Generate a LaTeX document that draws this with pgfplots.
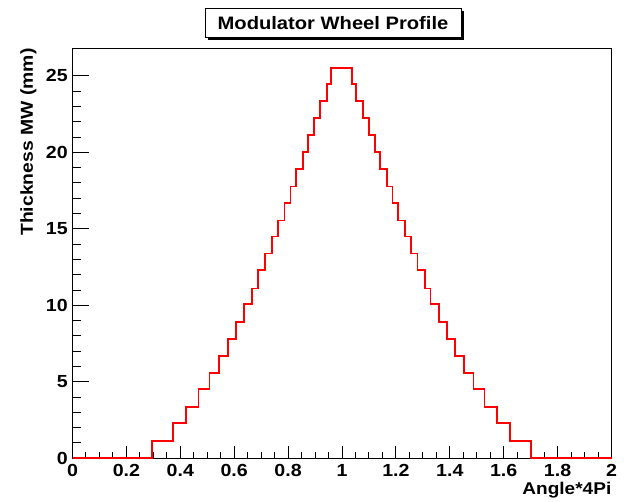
\documentclass[border=0pt]{standalone}
\usepackage{fontspec}
\setmainfont{Liberation Sans}[FakeStretch=1.12]
\usepackage{pgfplots}
\pgfplotsset{compat=1.18}
\begin{document}
\begin{tikzpicture}
\path (0,0) rectangle (629pt,502pt);
\fill[black] (207.5pt,462pt) rectangle (463.5pt,491.2pt);
\filldraw[fill=white, draw=black, line width=1pt] (205pt,464.5pt) rectangle (461pt,493.7pt);
\node[font=\bfseries\fontsize{18}{21}\selectfont, inner sep=0pt] at (333pt,479.1pt) {Modulator Wheel Profile};
\begin{axis}[
  at={(72.5pt,43.7pt)}, anchor=south west,
  scale only axis, width=539pt, height=410pt,
  xmin=0, xmax=2, ymin=0, ymax=26.8,
  clip=false,
  axis line style={line width=1.3pt, black},
  tick align=inside, xtick pos=bottom, ytick pos=left,
  xtick={0,0.2,0.4,0.6,0.8,1,1.2,1.4,1.6,1.8,2},
  ytick={0,5,10,15,20,25},
  minor x tick num=3, minor y tick num=4,
  xtick style={line width=1pt, black, /pgfplots/major tick length=12.5pt, /pgfplots/minor tick length=6.5pt},
  ytick style={line width=1pt, black, /pgfplots/major tick length=16.5pt, /pgfplots/minor tick length=8.5pt},
  /pgf/number format/assume math mode=true,
  ticklabel style={font=\bfseries\fontsize{17.5}{20}\selectfont, inner sep=0pt},
  xticklabel style={anchor=north, yshift=-6pt},
  yticklabel style={anchor=east, xshift=-4.5pt},
  xlabel={Angle*4Pi},
  xlabel style={at={(axis description cs:1,-0.0572)}, anchor=north east, inner sep=0pt, font=\bfseries\fontsize{17}{20}\selectfont},
  ylabel={Thickness MW (mm)},
  ylabel style={at={(axis description cs:-0.0816,1)}, anchor=east, inner sep=0pt, font=\bfseries\fontsize{17.3}{20}\selectfont},
]
\addplot[const plot, red, line width=1.8pt, line join=miter] coordinates {
(0,0) (0.295,1.13) (0.3735,2.29) (0.4205,3.36) (0.4675,4.51) (0.508,5.56)
(0.5425,6.70) (0.5765,7.79) (0.6075,8.90) (0.637,10.08) (0.6675,11.10)
(0.6895,12.32) (0.7155,13.39) (0.740,14.50) (0.7625,15.55) (0.787,16.68)
(0.809,17.77) (0.829,18.93) (0.855,20.02) (0.8725,21.11) (0.897,22.22)
(0.917,23.33) (0.9455,24.49) (0.9585,25.52)
(1.0375,24.49) (1.0505,23.33) (1.079,22.22) (1.099,21.11) (1.1235,20.02)
(1.141,18.93) (1.167,17.77) (1.187,16.68) (1.209,15.55) (1.2335,14.50)
(1.256,13.39) (1.2805,12.32) (1.3065,11.10) (1.3285,10.08) (1.359,8.90)
(1.3885,7.79) (1.4195,6.70) (1.4535,5.56) (1.488,4.51) (1.5285,3.36)
(1.5755,2.29) (1.6225,1.13) (1.701,0) (2,0)
};
\end{axis}
\end{tikzpicture}
\end{document}
